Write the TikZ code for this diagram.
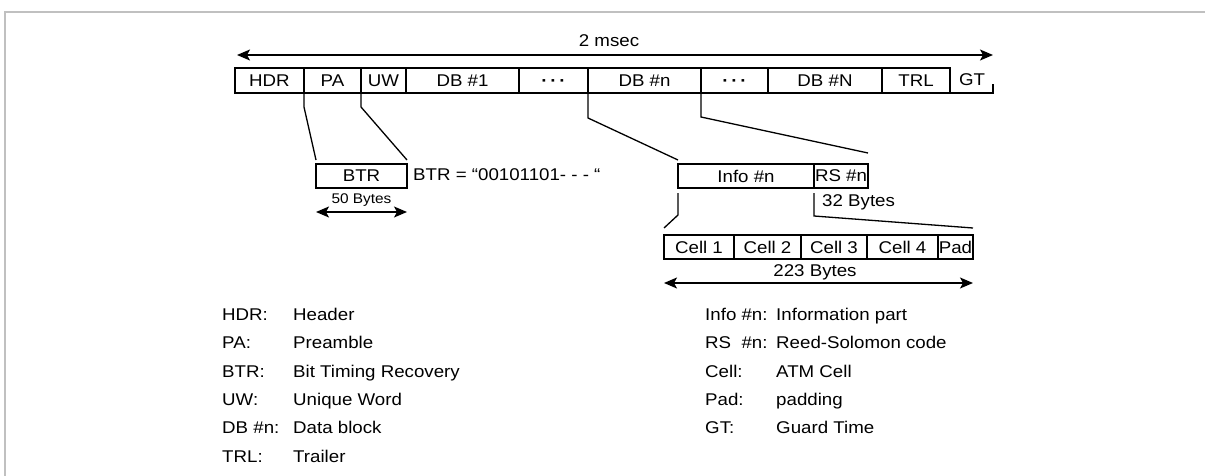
\documentclass[tikz,border=0pt]{standalone}
\usepackage{fontspec}
\setmainfont{Liberation Sans}[FakeStretch=1.1]
\usetikzlibrary{arrows.meta,positioning}
\definecolor{FrameGray}{HTML}{C0C0C0}

\begin{document}
\begin{tikzpicture}[x=1pt,y=-1pt,
  font=\fontsize{17}{19}\selectfont,
  cell/.style={draw,line width=1.4pt,minimum height=25pt,inner sep=0pt,outer sep=0pt},
  link/.style={line width=1.3pt},
  span/.style={{Stealth[length=13pt,width=11pt,inset=3pt]}-{Stealth[length=13pt,width=11pt,inset=3pt]},line width=1.3pt},
  key/.style={anchor=west,inner sep=0pt,text height=12pt,text depth=3.5pt}
]
  \useasboundingbox (0,0) rectangle (1205,476);
  \draw[FrameGray,line width=2pt] (4.5,476) -- (4.5,12) -- (1205,12);

  % frame of 2 msec
  \node[cell,minimum width=69pt,anchor=west] (hdr) at (235,80.5) {HDR};
  \node[cell,minimum width=57pt,right=0pt of hdr] (pa) {PA};
  \node[cell,minimum width=45pt,right=0pt of pa] (uw) {UW};
  \node[cell,minimum width=113pt,right=0pt of uw] (db1) {DB \#1};
  \node[cell,minimum width=69pt,right=0pt of db1] (dotsA) {\vphantom{DB}\bfseries ·\,·\,·};
  \node[cell,minimum width=113pt,right=0pt of dotsA] (dbn) {DB \#n};
  \node[cell,minimum width=67pt,right=0pt of dbn] (dotsB) {\vphantom{DB}\bfseries ·\,·\,·};
  \node[cell,minimum width=114pt,right=0pt of dotsB] (dbN) {DB \#N};
  \node[cell,minimum width=68pt,right=0pt of dbN] (trl) {TRL};
  \node (gt) at (972,80) {GT};
  \coordinate (gtend) at (993,93);
  \draw[link] (trl.south east) -- (gtend) -- ++(0,-9);

  \coordinate (tl) at (237,55);
  \coordinate (tr) at (993,55);
  \draw[span] (tl) -- (tr);
  \node (msec) at (609,41) {2 msec};

  % BTR
  \node[cell,minimum width=91pt,minimum height=24pt] (btr) at (361.5,176) {BTR};
  \node[key,right=6pt of btr] (btrval) {BTR = “00101101- - - “};
  \node[font=\fontsize{14}{16}\selectfont] (b50) at (361.5,200) {50 Bytes};
  \coordinate (b50l) at (316,212);
  \coordinate (b50r) at (407,212);
  \draw[span] (b50l) -- (b50r);
  \draw[link] (pa.south west) -- ++(0,14) -- ([yshift=4pt]btr.north west);
  \draw[link] (uw.south west) -- ++(0,14) -- ([yshift=4pt]btr.north east);

  % data block
  \node[cell,minimum width=136pt,minimum height=24pt] (info) at (746,176) {Info \#n};
  \node[cell,minimum width=54pt,minimum height=24pt,right=0pt of info] (rs) {RS \#n};
  \draw[link] (dbn.south west) -- ++(0,25) -- ([yshift=4pt]info.north west);
  \draw[link] (dbn.south east) -- ++(0,24) -- ([yshift=11pt]rs.north east);
  \node[key] (b32) at (822,202) {32 Bytes};

  % cells
  \node[cell,minimum width=70pt,minimum height=24pt] (c1) at (699,247) {Cell 1};
  \node[cell,minimum width=67pt,minimum height=24pt,right=0pt of c1] (c2) {Cell 2};
  \node[cell,minimum width=66pt,minimum height=24pt,right=0pt of c2] (c3) {Cell 3};
  \node[cell,minimum width=71pt,minimum height=24pt,right=0pt of c3] (c4) {Cell 4};
  \node[cell,minimum width=35pt,minimum height=24pt,right=0pt of c4] (pad) {Pad};
  \draw[link] ([yshift=-5pt]info.south west) -- ++(0,22) -- ([yshift=7pt]c1.north west);
  \draw[link] ([yshift=-5pt]rs.south west) -- ++(0,23) -- ([yshift=7pt]pad.north east);
  \node (b223) at (815,272) {223 Bytes};
  \coordinate (b223l) at (664,283);
  \coordinate (b223r) at (973,283);
  \draw[span] (b223l) -- (b223r);

  % legend
  \foreach \k/\d [count=\i] in {HDR:/Header,PA:/Preamble,BTR:/Bit Timing Recovery,
      UW:/Unique Word,DB \#n:/Data block,TRL:/Trailer}{
    \node[key] (keyL\i) at (222,{316+28.4*(\i-1)}) {\k};
    \node[key] (descL\i) at (293,{316+28.4*(\i-1)}) {\d};
  }
  \foreach \k/\d [count=\i] in {Info \#n:/Information part,RS\ \ \#n:/Reed-Solomon code,
      Cell:/ATM Cell,Pad:/padding,GT:/Guard Time}{
    \node[key] (keyR\i) at (705,{316+28.4*(\i-1)}) {\k};
    \node[key] (descR\i) at (776,{316+28.4*(\i-1)}) {\d};
  }
\end{tikzpicture}
\end{document}
